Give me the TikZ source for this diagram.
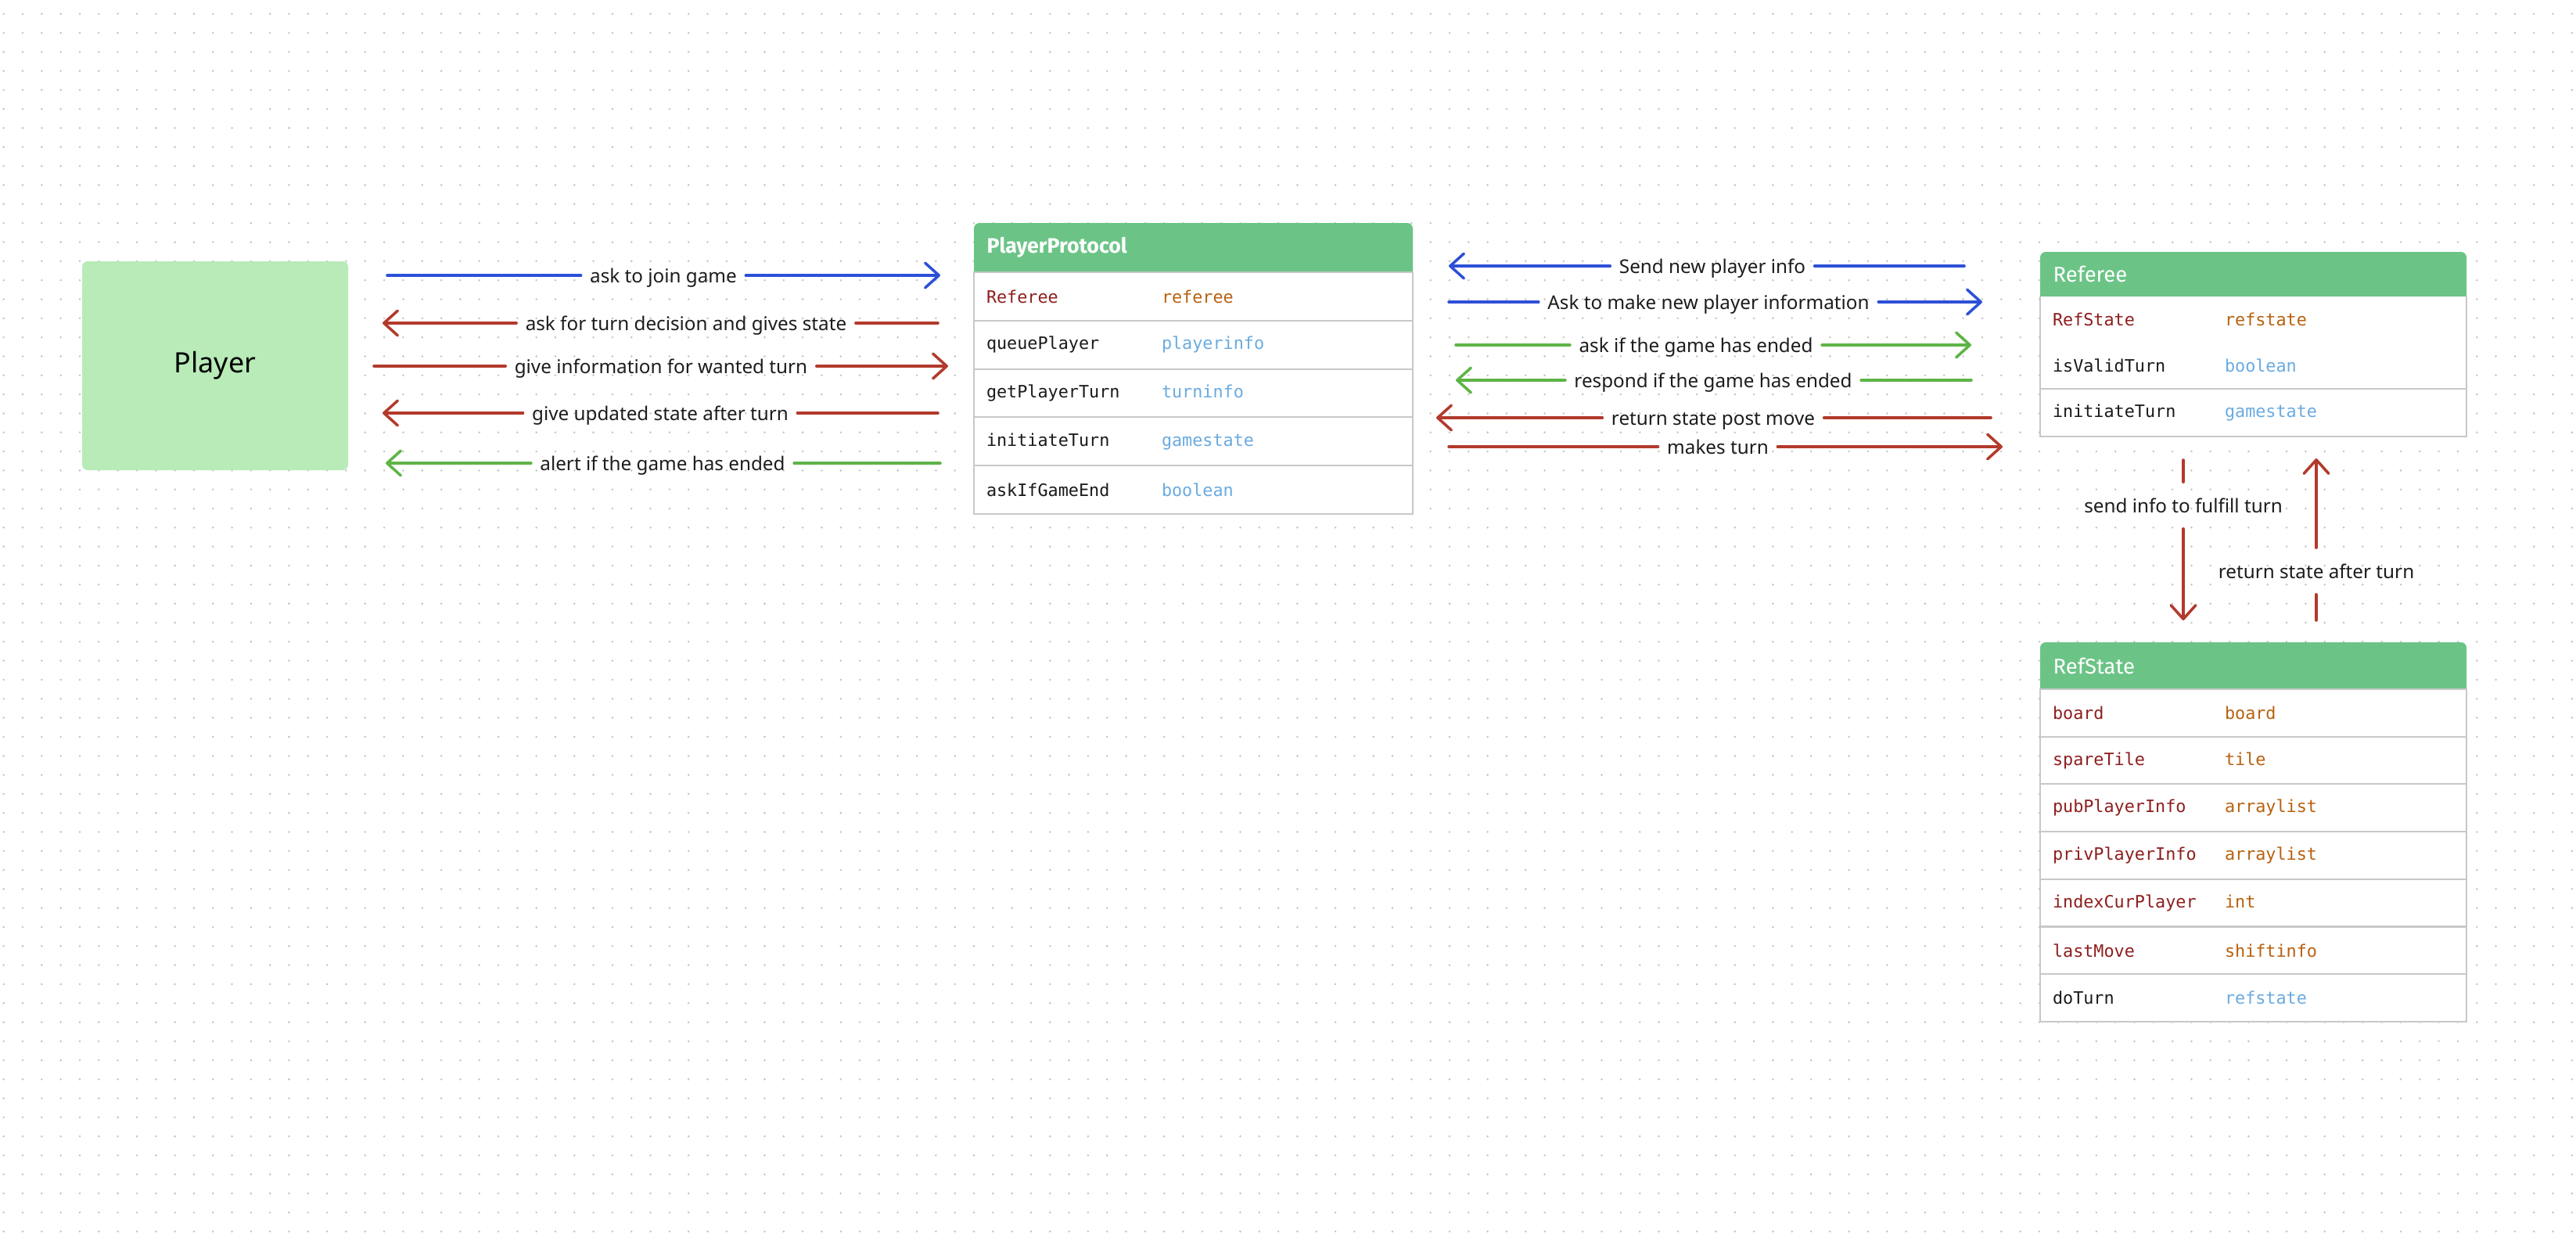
\documentclass[tikz,border=0pt]{standalone}
\usepackage{fontspec}
\setmainfont{Noto Sans}
\setmonofont{DejaVu Sans Mono}
\newfontfamily\headfont{Fira Sans}
\usetikzlibrary{arrows.meta,positioning}

\definecolor{dotgray}{RGB}{196,196,196}
\definecolor{playergreen}{RGB}{184,235,184}
\definecolor{headgreen}{RGB}{107,196,134}
\definecolor{rowline}{RGB}{200,200,200}
\definecolor{msgblue}{RGB}{45,80,215}
\definecolor{msgred}{RGB}{178,58,44}
\definecolor{msggreen}{RGB}{94,180,70}
\definecolor{fieldred}{RGB}{142,30,30}
\definecolor{typeorange}{RGB}{184,97,15}
\definecolor{typeblue}{RGB}{106,171,224}
\definecolor{monoblack}{RGB}{26,26,26}
\definecolor{labelblack}{RGB}{28,28,28}

\newcommand{\colw}{2.24cm}
\newcommand{\tabentry}[4]{\makebox[\colw][l]{\textcolor{#1}{#2}}\textcolor{#3}{#4}}

\tikzset{
  msg/.style={line width=1pt, line cap=round},
  tipend/.style={-{Straight Barb[length=5pt,width=9pt,round]}},
  msglabel/.style={font=\fontsize{6.9}{8}\selectfont, text=labelblack, inner xsep=3.1pt, inner ysep=0pt, text height=7pt, text depth=1.5pt},
  vlabel/.style={msglabel, text height=10.9pt, text depth=5.7pt},
  playerbox/.style={fill=playergreen, rounded corners=0.07cm, minimum width=3.4cm, minimum height=2.67cm, font=\fontsize{10.2}{12}\selectfont},
  tabhead/.style={anchor=west, inner xsep=0.16cm, text=white, font=\headfont\fontsize{7.8}{9}\selectfont},
  tabrow/.style={draw=rowline, line width=0.6pt, outer sep=0pt, fill=white, minimum height=0.618cm, text width=5.29cm, inner xsep=0.16cm, inner ysep=0pt, align=left, font=\ttfamily\fontsize{6.2}{7}\selectfont, text=monoblack}
}

\begin{document}
\begin{tikzpicture}

\useasboundingbox (0,0) rectangle (32.93,-15.93);
\fill[white] (0,0) rectangle (32.93,-15.93);

% dotted canvas
\foreach \i in {0,...,135} {
  \fill[dotgray] \foreach \j in {0,...,64} {(0.047+\i*0.2432,-0.177-\j*0.2432) circle[radius=0.014]};
}

\node[playerbox] (player) at (2.75,-4.675) {Player};

% PlayerProtocol
\def \ppx {12.45}
\def \ppy {-2.85}
\def \ppw {5.61}
\def \pph {0.63}

\fill[headgreen, rounded corners=0.07cm] (\ppx,\ppy-\pph) -- (\ppx,\ppy) -- (\ppx+\ppw,\ppy) -- (\ppx+\ppw,\ppy-\pph);
\node[tabhead, font=\headfont\bfseries\fontsize{7.6}{9}\selectfont] (pphead) at (\ppx,\ppy-\pph/2) {PlayerProtocol};
\node[tabrow, anchor=north west] (pp1) at (\ppx,\ppy-\pph) {\tabentry{fieldred}{Referee}{typeorange}{referee}};
\node[tabrow, below=0pt of pp1] (pp2) {\tabentry{monoblack}{queuePlayer}{typeblue}{playerinfo}};
\node[tabrow, below=0pt of pp2] (pp3) {\tabentry{monoblack}{getPlayerTurn}{typeblue}{turninfo}};
\node[tabrow, below=0pt of pp3] (pp4) {\tabentry{monoblack}{initiateTurn}{typeblue}{gamestate}};
\node[tabrow, below=0pt of pp4] (pp5) {\tabentry{monoblack}{askIfGameEnd}{typeblue}{boolean}};

% Referee
\renewcommand{\colw}{2.20cm}
\def \rfx {26.08}
\def \rfy {-3.22}
\def \rfw {5.45}
\def \rfh {0.57}

\fill[headgreen, rounded corners=0.07cm] (\rfx,\rfy-\rfh) -- (\rfx,\rfy) -- (\rfx+\rfw,\rfy) -- (\rfx+\rfw,\rfy-\rfh);
\node[tabhead] (refhead) at (\rfx,\rfy-\rfh/2) {Referee};
\node[tabrow, draw=none, text width=5.13cm, minimum height=0.59cm, anchor=north west] (ref1) at (\rfx,\rfy-\rfh) {\tabentry{fieldred}{RefState}{typeorange}{refstate}};
\node[tabrow, draw=none, text width=5.13cm, minimum height=0.59cm, below=0pt of ref1] (ref2) {\tabentry{monoblack}{isValidTurn}{typeblue}{boolean}};
\node[tabrow, text width=5.13cm, minimum height=0.61cm, below=0pt of ref2] (ref3) {\tabentry{monoblack}{initiateTurn}{typeblue}{gamestate}};
\draw[rowline, line width=0.6pt] (ref1.north west) -- (ref2.south west);
\draw[rowline, line width=0.6pt] (ref1.north east) -- (ref2.south east);

% RefState
\def \rsy {-8.21}
\def \rsh {0.60}

\fill[headgreen, rounded corners=0.07cm] (\rfx,\rsy-\rsh) -- (\rfx,\rsy) -- (\rfx+\rfw,\rsy) -- (\rfx+\rfw,\rsy-\rsh);
\node[tabhead] (rshead) at (\rfx,\rsy-\rsh/2) {RefState};
\node[tabrow, text width=5.13cm, minimum height=0.607cm, anchor=north west] (rs1) at (\rfx,\rsy-\rsh) {\tabentry{fieldred}{board}{typeorange}{board}};
\node[tabrow, text width=5.13cm, minimum height=0.607cm, below=0pt of rs1] (rs2) {\tabentry{fieldred}{spareTile}{typeorange}{tile}};
\node[tabrow, text width=5.13cm, minimum height=0.607cm, below=0pt of rs2] (rs3) {\tabentry{fieldred}{pubPlayerInfo}{typeorange}{arraylist}};
\node[tabrow, text width=5.13cm, minimum height=0.607cm, below=0pt of rs3] (rs4) {\tabentry{fieldred}{privPlayerInfo}{typeorange}{arraylist}};
\node[tabrow, text width=5.13cm, minimum height=0.607cm, below=0pt of rs4] (rs5) {\tabentry{fieldred}{indexCurPlayer}{typeorange}{int}};
\node[tabrow, text width=5.13cm, minimum height=0.607cm, below=0pt of rs5] (rs6) {\tabentry{fieldred}{lastMove}{typeorange}{shiftinfo}};
\node[tabrow, text width=5.13cm, minimum height=0.607cm, below=0pt of rs6] (rs7) {\tabentry{monoblack}{doTurn}{typeblue}{refstate}};

% Player <-> PlayerProtocol
\coordinate (a1s) at (4.95,-3.52);
\coordinate (a1e) at (12.02,-3.52);
\node[msglabel] (a1) at (8.48,-3.52) {ask to join game};
\draw[msg, msgblue] (a1s) -- (a1);
\draw[msg, msgblue, tipend] (a1) -- (a1e);

\coordinate (a2s) at (11.99,-4.13);
\coordinate (a2e) at (4.89,-4.13);
\node[msglabel] (a2) at (8.77,-4.13) {ask for turn decision and gives state};
\draw[msg, msgred] (a2s) -- (a2);
\draw[msg, msgred, tipend] (a2) -- (a2e);

\coordinate (a3s) at (4.78,-4.68);
\coordinate (a3e) at (12.12,-4.68);
\node[msglabel] (a3) at (8.45,-4.68) {give information for wanted turn};
\draw[msg, msgred] (a3s) -- (a3);
\draw[msg, msgred, tipend] (a3) -- (a3e);

\coordinate (a4s) at (11.99,-5.28);
\coordinate (a4e) at (4.89,-5.28);
\node[msglabel] (a4) at (8.44,-5.28) {give updated state after turn};
\draw[msg, msgred] (a4s) -- (a4);
\draw[msg, msgred, tipend] (a4) -- (a4e);

\coordinate (a5s) at (12.02,-5.92);
\coordinate (a5e) at (4.93,-5.92);
\node[msglabel] (a5) at (8.47,-5.92) {alert if the game has ended};
\draw[msg, msggreen] (a5s) -- (a5);
\draw[msg, msggreen, tipend] (a5) -- (a5e);

% PlayerProtocol <-> Referee
\coordinate (b1s) at (25.11,-3.40);
\coordinate (b1e) at (18.52,-3.40);
\node[msglabel] (b1) at (21.89,-3.40) {Send new player info};
\draw[msg, msgblue] (b1s) -- (b1);
\draw[msg, msgblue, tipend] (b1) -- (b1e);

\coordinate (b2s) at (18.52,-3.86);
\coordinate (b2e) at (25.34,-3.86);
\node[msglabel] (b2) at (21.84,-3.86) {Ask to make new player information};
\draw[msg, msgblue] (b2s) -- (b2);
\draw[msg, msgblue, tipend] (b2) -- (b2e);

\coordinate (b3s) at (18.61,-4.41);
\coordinate (b3e) at (25.20,-4.41);
\node[msglabel] (b3) at (21.68,-4.41) {ask if the game has ended};
\draw[msg, msggreen] (b3s) -- (b3);
\draw[msg, msggreen, tipend] (b3) -- (b3e);

\coordinate (b4s) at (25.20,-4.86);
\coordinate (b4e) at (18.61,-4.86);
\node[msglabel] (b4) at (21.90,-4.86) {respond if the game has ended};
\draw[msg, msggreen] (b4s) -- (b4);
\draw[msg, msggreen, tipend] (b4) -- (b4e);

\coordinate (b5s) at (25.45,-5.34);
\coordinate (b5e) at (18.36,-5.34);
\node[msglabel] (b5) at (21.90,-5.34) {return state post move};
\draw[msg, msgred] (b5s) -- (b5);
\draw[msg, msgred, tipend] (b5) -- (b5e);

\coordinate (b6s) at (18.52,-5.71);
\coordinate (b6e) at (25.60,-5.71);
\node[msglabel] (b6) at (21.96,-5.71) {makes turn};
\draw[msg, msgred] (b6s) -- (b6);
\draw[msg, msgred, tipend] (b6) -- (b6e);

% Referee <-> RefState
\coordinate (c1s) at (27.91,-5.88);
\coordinate (c1e) at (27.91,-7.93);
\node[vlabel] (c1) at (27.91,-6.46) {send info to fulfill turn};
\draw[msg, msgred] (c1s) -- (c1);
\draw[msg, msgred, tipend] (c1) -- (c1e);

\coordinate (c2s) at (29.61,-7.93);
\coordinate (c2e) at (29.61,-5.86);
\node[vlabel] (c2) at (29.61,-7.30) {return state after turn};
\draw[msg, msgred] (c2s) -- (c2);
\draw[msg, msgred, tipend] (c2) -- (c2e);

\end{tikzpicture}
\end{document}
